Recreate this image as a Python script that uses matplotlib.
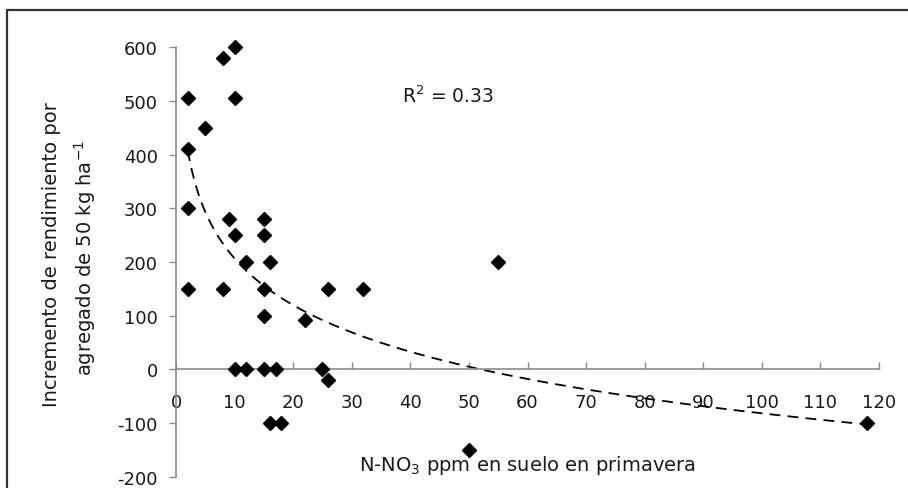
import numpy as np
import matplotlib
matplotlib.use("Agg")
import matplotlib.pyplot as plt
from matplotlib.patches import Rectangle

plt.rcParams["axes.unicode_minus"] = False

# N-NO3 ppm (x) vs yield increment (y)
no3_ppm = [2, 2, 2, 2, 5, 8, 8, 9, 10, 10, 10, 10, 12, 12,
           15, 15, 15, 15, 15, 16, 16, 17, 18, 22, 25, 26, 26, 32, 50, 55, 118]
incremento = [505, 410, 300, 150, 450, 580, 150, 280, 600, 505, 250, 0, 200, 0,
              280, 250, 150, 100, 0, 200, -100, 0, -100, 92, 0, 150, -20, 150, -150, 200, -100]
x_ticks = [0, 10, 20, 30, 40, 50, 60, 70, 80, 90, 100, 110, 120]
y_ticks = [-200, -100, 0, 100, 200, 300, 400, 500, 600]
r2_label = "R$^2$ = 0.33"

W, H = 908, 489
fig = plt.figure(figsize=(W / 100, H / 100), dpi=100)
ax = fig.add_axes([176 / W, 1 - 477.7 / H, (879 - 176) / W, (477.7 - 48.3) / H])

x = np.array(no3_ppm, dtype=float)
y = np.array(incremento, dtype=float)
ax.plot(x, y, linestyle="none", marker="D", markersize=7, color="black",
        zorder=3, clip_on=False)

# logarithmic trendline, as excel does it
a, b = np.polyfit(np.log(x), y, 1)
xs = np.linspace(x.min(), x.max(), 200)
ax.plot(xs, a * np.log(xs) + b, color="black", lw=1.3, linestyle=(0, (6, 4)), zorder=2)

ax.set_xlim(0, 120)
ax.set_ylim(-200, 600)
ax.set_xticks(x_ticks)
ax.set_yticks(y_ticks)

for s in ["top", "right"]:
    ax.spines[s].set_visible(False)
ax.spines["bottom"].set_position(("data", 0))
for s in ["left", "bottom"]:
    ax.spines[s].set_color("#8c8c8c")
    ax.spines[s].set_linewidth(1.2)

ax.tick_params(axis="x", direction="in", length=5, width=1, color="#8c8c8c",
               pad=17, labelsize=13, labelcolor="#1a1a1a")
ax.tick_params(axis="y", direction="out", length=5, width=1, color="#8c8c8c",
               pad=8, labelsize=13, labelcolor="#1a1a1a")

ax.text(38.6, 510, r2_label, fontsize=13.5, color="#1a1a1a", ha="left", va="center")

fig.text(52 / W, 1 - 255 / H, "Incremento de rendimiento por", rotation=90,
         ha="center", va="center", fontsize=14, color="#1a1a1a")
fig.text(85 / W, 1 - 258 / H, "agregado de 50 kg ha$^{-1}$", rotation=90,
         ha="center", va="center", fontsize=14, color="#1a1a1a")
fig.text(527 / W, 1 - 466 / H, "N-NO$_3$ ppm en suelo en primavera",
         ha="center", va="center", fontsize=14, color="#1a1a1a")

# outer frame (cut off at right and bottom)
fig.add_artist(Rectangle((7 / W, -0.1), 1.0, 1 - 11 / H + 0.1, transform=fig.transFigure,
                         fill=False, lw=1.6, ec="#333333"))

fig.savefig("out.png", dpi=100)
